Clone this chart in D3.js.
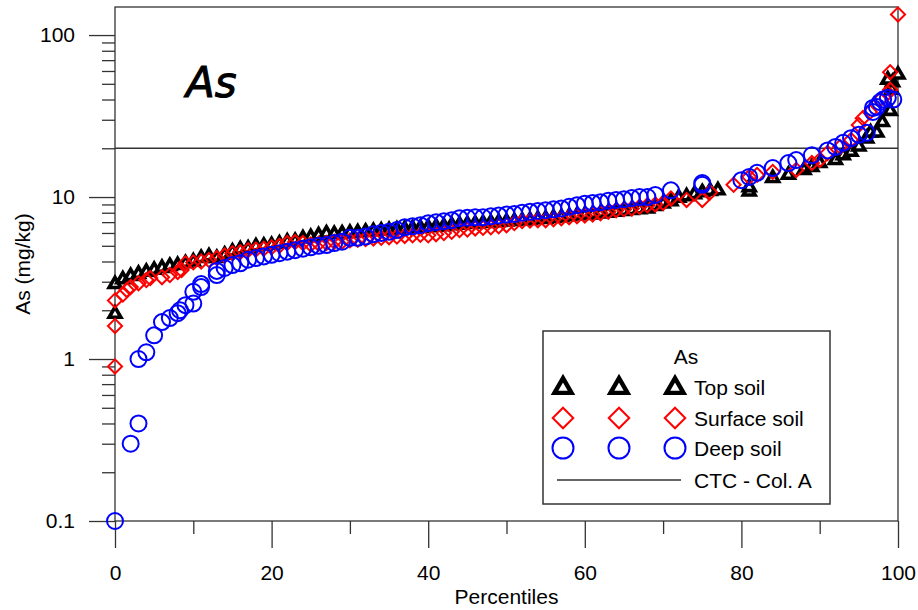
<!DOCTYPE html>
<html>
<head>
<meta charset="utf-8">
<script src="https://cdn.jsdelivr.net/npm/d3@7"></script>
<style>
  body { margin: 0; background: #fff; }
  svg text { font-family: Arial, "Liberation Sans", sans-serif; fill: #000; }
</style>
</head>
<body>
<svg id="chart" width="918" height="610"></svg>
<script>
// percentile, As (mg/kg)
var topSoil = [
  [0,1.9],[0,2.9],[1,3.1],[2,3.25],[3,3.35],[4,3.45],[5,3.55],[6,3.65],[7,3.75],[8,3.8],
  [9,3.9],[10,4.0],[11,4.2],[12,4.3],[13,4.2],[14,4.4],[15,4.6],[16,4.75],[17,4.8],[18,4.95],
  [19,5.0],[20,5.05],[21,5.15],[22,5.3],[23,5.35],[24,5.55],[25,5.65],[26,5.8],[27,5.95],[28,5.9],
  [29,5.95],[30,6.0],[31,6.05],[32,6.1],[33,6.15],[34,6.2],[35,6.25],[36,6.3],[37,6.35],[38,6.4],
  [39,6.45],[40,6.5],[41,6.55],[42,6.6],[43,6.7],[44,6.75],[45,6.8],[46,6.85],[47,6.9],[48,6.95],
  [49,7.0],[50,7.05],[51,7.1],[52,7.15],[53,7.2],[54,7.3],[55,7.35],[56,7.45],[57,7.5],[58,7.6],
  [59,7.7],[60,7.75],[61,7.8],[62,7.9],[63,8.0],[64,8.1],[65,8.2],[66,8.3],[67,8.4],[68,8.5],
  [69,8.8],[70,9.1],[71,9.4],[72,9.9],[73,10.1],[74,10.4],[75,10.7],[76,10.9],[77,11.0],
  [81,10.8],[81,11.5],[84,13.1],[86,13.7],[88,14.7],[89,15.3],[90,16.2],[92,16.9],[93,18.1],
  [94,19.0],[95,20.5],[96,23],[96.5,25],[97.3,25],[98,29],[99,34],[99.2,46],[99.3,51],[98.7,53],[100,57]
];

var surfaceSoil = [
  [0,0.9],[0,1.6],[0,2.3],[1,2.5],[1.5,2.67],[2,2.78],[3,2.94],[4,3.07],[4.5,3.16],[6,3.2],
  [7,3.3],[8,3.45],[8.5,3.54],[9,3.9],[10,3.95],[11,4.0],[12,4.08],[13,4.2],[14,4.35],[15,4.5],
  [16,4.57],[17,4.7],[18,4.75],[19,4.8],[20,4.9],[21,5.0],[22,5.2],[23,5.27],[24,5.2],[25,5.1],
  [26,5.15],[27,5.2],[28,5.3],[29,5.3],[30,5.4],[31,5.45],[32,5.5],[33,5.55],[34,5.6],[35,5.65],
  [36,5.7],[37,5.75],[38,5.8],[39,5.85],[40,5.8],[41,5.9],[42,6.0],[43,6.1],[44,6.25],[45,6.3],
  [46,6.4],[47,6.45],[48,6.5],[49,6.6],[50,6.7],[51,6.9],[52,7.1],[53,7.15],[54,7.2],[55,7.2],
  [56,7.3],[57,7.4],[58,7.5],[59,7.6],[60,7.7],[61,7.8],[62,7.95],[63,8.1],[64,8.3],[65,8.4],
  [66,8.5],[67,8.7],[68,8.9],[69,9.0],[70,9.2],[71,9.8],[73,9.6],[75,9.6],[76,10.7],[79,11.9],
  [81,13.3],[82,13.7],[84,14.3],[87,14.7],[89,16.2],[90,16.9],[91,18.7],[92.6,20.4],[94,22.5],
  [95,27.8],[95.5,30.7],[96.4,33.5],[97.7,39.8],[98.7,43.9],[99,45.9],[99,59],[100,134]
];

var deepSoil = [
  [0,0.1],[2,0.3],[3,0.4],[3,1.0],[4,1.1],[5,1.4],[6,1.69],[7,1.79],[8,1.92],[8.3,2.0],
  [9,2.15],[10,2.2],[10,2.6],[11,2.78],[11,2.9],[13,3.3],[13,3.5],[14,3.65],[15,3.8],[16,3.9],
  [17,4.1],[18,4.2],[19,4.3],[20,4.4],[21,4.5],[22,4.6],[23,4.7],[24,4.8],[25,4.9],[26,5.0],
  [27,5.05],[28,5.2],[29,5.3],[30,5.6],[31,5.6],[32,5.7],[33,5.9],[34,6.0],[35,6.1],[36,6.25],
  [37,6.5],[38,6.6],[39,6.7],[40,6.9],[41,7.0],[42,7.1],[43,7.2],[44,7.4],[45,7.45],[46,7.5],
  [47,7.5],[48,7.6],[49,7.7],[50,7.8],[51,7.85],[52,8.0],[53,8.1],[54,8.2],[55,8.3],[56,8.4],
  [57,8.5],[58,8.7],[59,8.9],[60,9.1],[61,9.2],[62,9.3],[63,9.5],[64,9.6],[65,9.7],[66,9.85],
  [67,10],[68,10],[69,10.3],[71,11.0],[75,11.9],[75,12.2],[80,12.7],[81,13.3],[82,14.1],[84,15.1],
  [86,16.2],[87,16.9],[89,18.1],[91,19.4],[92,20.4],[93,21.6],[94,23.1],[95,24.2],[96,24.9],
  [96.8,33.5],[96.8,35.5],[97.3,36],[97.7,38.6],[98.1,40],[98.7,41],[99.4,40]
];

var ctcColA = 20;
var yMajor = [0.1, 1, 10, 100];
var xMajor = [0, 20, 40, 60, 80, 100];
var xMinor = [10, 30, 50, 70, 90];
var legendItems = ["Top soil", "Surface soil", "Deep soil"];

var svg = d3.select("#chart");
var L = 115, R = 898, T = 7, B = 521;
var fs = 21;

var x = d3.scaleLinear().domain([0, 100]).range([L, R]);
var y = d3.scaleLog().domain([0.1, 149]).range([B, T]);

var yMinor = [];
[0.1, 1, 10].forEach(function(d) {
  for (var k = 2; k <= 9; k++) yMinor.push(+(d * k).toPrecision(3));
});

var axisCol = "#333";

// y axis
var gy = svg.append("g").attr("transform", "translate(" + L + ",0)");
gy.call(d3.axisLeft(y).tickValues(yMajor).tickSize(26).tickPadding(14)
  .tickFormat(d3.format("~g")));
gy.append("g").call(d3.axisLeft(y).tickValues(yMinor).tickSize(13).tickFormat(""));

// x axis
var gx = svg.append("g").attr("transform", "translate(0," + B + ")");
gx.call(d3.axisBottom(x).tickValues(xMajor).tickSize(27).tickPadding(17));
gx.append("g").call(d3.axisBottom(x).tickValues(xMinor).tickSize(13).tickFormat(""));

svg.selectAll(".domain").remove();
svg.selectAll(".tick line").attr("stroke", axisCol).attr("stroke-width", 1.3);
svg.selectAll(".tick text").attr("font-size", fs)
  .attr("font-family", "Arial, 'Liberation Sans', sans-serif");

// frame
svg.append("rect")
  .attr("x", L).attr("y", T).attr("width", R - L).attr("height", B - T)
  .attr("fill", "none").attr("stroke", axisCol).attr("stroke-width", 1.3);

// CTC - Col. A
svg.append("line")
  .attr("x1", L).attr("x2", R)
  .attr("y1", y(ctcColA)).attr("y2", y(ctcColA))
  .attr("stroke", axisCol).attr("stroke-width", 1.3);

// titles
svg.append("text")
  .attr("x", (L + R) / 2).attr("y", 604)
  .attr("text-anchor", "middle").attr("font-size", fs)
  .text("Percentiles");

svg.append("text")
  .attr("transform", "translate(30,264) rotate(-90)")
  .attr("text-anchor", "middle").attr("font-size", fs)
  .text("As (mg/kg)");

svg.append("text")
  .attr("x", 186).attr("y", 97)
  .attr("font-size", 42).attr("font-style", "italic")
  .attr("stroke", "#000").attr("stroke-width", 1)
  .style("font-family", "'Comic Sans MS', 'DejaVu Sans', sans-serif")
  .text("As");

// markers
var tri = d3.symbol().type(d3.symbolTriangle).size(60);
var triBig = d3.symbol().type(d3.symbolTriangle).size(125);
var dia = d3.symbol().type(d3.symbolSquare).size(100);
var diaBig = d3.symbol().type(d3.symbolSquare).size(210);

var plot = svg.append("g");

plot.selectAll(".top").data(topSoil).enter().append("path")
  .attr("class", "top")
  .attr("d", tri)
  .attr("transform", function(d) { return "translate(" + x(d[0]) + "," + y(d[1]) + ")"; })
  .attr("fill", "#fff").attr("stroke", "#000").attr("stroke-width", 3.6);

plot.selectAll(".surf").data(surfaceSoil).enter().append("path")
  .attr("class", "surf")
  .attr("d", dia)
  .attr("transform", function(d) { return "translate(" + x(d[0]) + "," + y(d[1]) + ") rotate(45)"; })
  .attr("fill", "none").attr("stroke", "#ff0000").attr("stroke-width", 2);

plot.selectAll(".deep").data(deepSoil).enter().append("circle")
  .attr("class", "deep")
  .attr("cx", function(d) { return x(d[0]); })
  .attr("cy", function(d) { return y(d[1]); })
  .attr("r", 8)
  .attr("fill", "none").attr("stroke", "#0000ff").attr("stroke-width", 2);

// legend
var lg = svg.append("g");
lg.append("rect")
  .attr("x", 543).attr("y", 331).attr("width", 287).attr("height", 173)
  .attr("fill", "#fff").attr("stroke", axisCol).attr("stroke-width", 1.5);

lg.append("text").attr("x", 686).attr("y", 364)
  .attr("text-anchor", "middle").attr("font-size", fs).text("As");

var rowY = [387, 418, 448, 480];
var symX = [563, 619, 675];

symX.forEach(function(sx) {
  lg.append("path").attr("d", triBig)
    .attr("transform", "translate(" + sx + "," + (rowY[0] + 1) + ")")
    .attr("fill", "#fff").attr("stroke", "#000").attr("stroke-width", 4.4);
  lg.append("path").attr("d", diaBig)
    .attr("transform", "translate(" + sx + "," + rowY[1] + ") rotate(45)")
    .attr("fill", "none").attr("stroke", "#ff0000").attr("stroke-width", 2);
  lg.append("circle").attr("cx", sx).attr("cy", rowY[2]).attr("r", 10.5)
    .attr("fill", "none").attr("stroke", "#0000ff").attr("stroke-width", 2);
});

legendItems.forEach(function(t, i) {
  lg.append("text").attr("x", 694).attr("y", rowY[i] + 8)
    .attr("font-size", fs).text(t);
});

lg.append("line").attr("x1", 557).attr("x2", 681)
  .attr("y1", rowY[3]).attr("y2", rowY[3])
  .attr("stroke", axisCol).attr("stroke-width", 1.3);
lg.append("text").attr("x", 694).attr("y", rowY[3] + 8)
  .attr("font-size", fs).text("CTC - Col. A");
</script>
</body>
</html>
